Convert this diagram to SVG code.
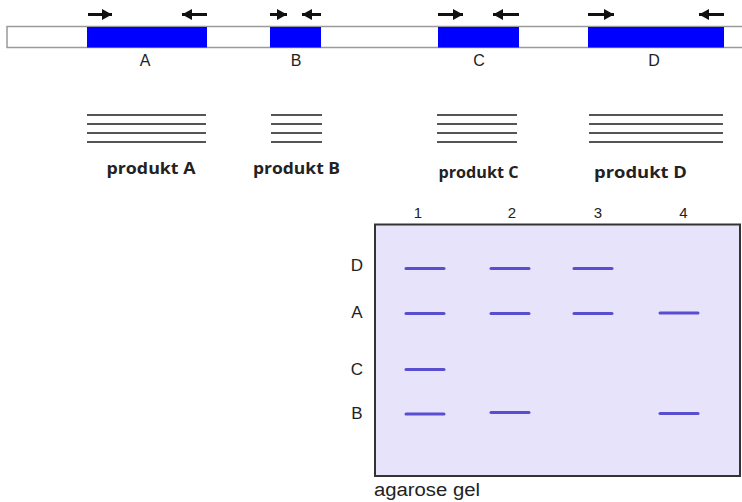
<svg xmlns="http://www.w3.org/2000/svg" width="742" height="502" viewBox="0 0 742 502">
  <style>
    .strand { fill: #ffffff; stroke: #9a9a9a; stroke-width: 1.5; }
    .gene { fill: #0000ff; }
    .primer { stroke: #111111; stroke-width: 3; marker-end: url(#head); }
    .lbl { font-family: "Liberation Sans", Arial, sans-serif; font-size: 16px; fill: #222222; text-anchor: middle; }
    .prod { stroke: #555555; stroke-width: 2; }
    .plbl { font-family: "Open Sans", "Liberation Sans", sans-serif; font-weight: bold; font-size: 16.5px; fill: #222222; text-anchor: middle; }
    .gel { fill: #e6e3fb; stroke: #333333; stroke-width: 2; }
    .band { stroke: #5a4ed0; stroke-width: 3; stroke-linecap: round; }
    .lane { font-family: "Liberation Sans", Arial, sans-serif; font-size: 15px; fill: #222222; text-anchor: middle; }
    .row { font-family: "Liberation Sans", Arial, sans-serif; font-size: 17px; fill: #222222; text-anchor: middle; }
  </style>
  <defs>
    <marker id="head" markerUnits="userSpaceOnUse" markerWidth="10" markerHeight="11" refX="10" refY="5.5" orient="auto">
      <path d="M0,0 L10,5.5 L0,11 Z" fill="#111111"/>
    </marker>
  </defs>

  <rect width="742" height="502" fill="#ffffff"/>

  <!-- DNA template with target regions -->
  <g id="template">
    <rect class="strand" x="7" y="26.5" width="745" height="21"/>
    <rect class="gene" x="87" y="27" width="120" height="20.5"/>
    <rect class="gene" x="270" y="27" width="51" height="20.5"/>
    <rect class="gene" x="438" y="27" width="81" height="20.5"/>
    <rect class="gene" x="588" y="27" width="136" height="20.5"/>
    <text class="lbl" x="145" y="65.5">A</text>
    <text class="lbl" x="296" y="65.5">B</text>
    <text class="lbl" x="479" y="65.5">C</text>
    <text class="lbl" x="654" y="65.5">D</text>
  </g>

  <!-- primer pairs -->
  <g id="primers">
    <line class="primer" x1="88" y1="14.5" x2="112" y2="14.5"/>
    <line class="primer" x1="207" y1="14.5" x2="182" y2="14.5"/>
    <line class="primer" x1="270" y1="14.5" x2="287" y2="14.5"/>
    <line class="primer" x1="321" y1="14.5" x2="302" y2="14.5"/>
    <line class="primer" x1="438" y1="14.5" x2="463" y2="14.5"/>
    <line class="primer" x1="519" y1="14.5" x2="493" y2="14.5"/>
    <line class="primer" x1="588" y1="14.5" x2="614" y2="14.5"/>
    <line class="primer" x1="724" y1="14.5" x2="699" y2="14.5"/>
  </g>

  <!-- amplified products -->
  <g id="produktA">
    <line class="prod" x1="87" y1="115" x2="206" y2="115"/>
    <line class="prod" x1="87" y1="124" x2="206" y2="124"/>
    <line class="prod" x1="87" y1="133" x2="206" y2="133"/>
    <line class="prod" x1="87" y1="142" x2="206" y2="142"/>
    <text class="plbl" x="151" y="173.5" textLength="89" lengthAdjust="spacingAndGlyphs">produkt A</text>
  </g>
  <g id="produktB">
    <line class="prod" x1="271" y1="115" x2="322" y2="115"/>
    <line class="prod" x1="271" y1="124" x2="322" y2="124"/>
    <line class="prod" x1="271" y1="133" x2="322" y2="133"/>
    <line class="prod" x1="271" y1="142" x2="322" y2="142"/>
    <text class="plbl" x="296.5" y="173.5" textLength="87" lengthAdjust="spacingAndGlyphs">produkt B</text>
  </g>
  <g id="produktC">
    <line class="prod" x1="437" y1="115" x2="517" y2="115"/>
    <line class="prod" x1="437" y1="124" x2="517" y2="124"/>
    <line class="prod" x1="437" y1="133" x2="517" y2="133"/>
    <line class="prod" x1="437" y1="142" x2="517" y2="142"/>
    <text class="plbl" x="478.5" y="178" textLength="80" lengthAdjust="spacingAndGlyphs">produkt C</text>
  </g>
  <g id="produktD">
    <line class="prod" x1="589" y1="115" x2="723" y2="115"/>
    <line class="prod" x1="589" y1="124" x2="723" y2="124"/>
    <line class="prod" x1="589" y1="133" x2="723" y2="133"/>
    <line class="prod" x1="589" y1="142" x2="723" y2="142"/>
    <text class="plbl" x="640.5" y="178" textLength="93" lengthAdjust="spacingAndGlyphs">produkt D</text>
  </g>

  <!-- agarose gel -->
  <g id="gel">
    <rect class="gel" x="375" y="224.5" width="365" height="251.5"/>
    <text class="lane" x="418" y="218">1</text>
    <text class="lane" x="512" y="218">2</text>
    <text class="lane" x="598" y="218">3</text>
    <text class="lane" x="683.5" y="218">4</text>
    <text class="row" x="357" y="271">D</text>
    <text class="row" x="357" y="318">A</text>
    <text class="row" x="357" y="375">C</text>
    <text class="row" x="357" y="419">B</text>
    <text x="374" y="496" font-family="Liberation Sans, Arial, sans-serif" font-size="18" fill="#222222" textLength="106" lengthAdjust="spacingAndGlyphs">agarose gel</text>
  </g>

  <g id="bands">
    <line class="band" x1="406" y1="268.5" x2="444" y2="268.5"/>
    <line class="band" x1="406" y1="313.5" x2="444" y2="313.5"/>
    <line class="band" x1="406" y1="369.5" x2="444" y2="369.5"/>
    <line class="band" x1="406" y1="414" x2="444" y2="414"/>
    <line class="band" x1="491" y1="268.5" x2="529" y2="268.5"/>
    <line class="band" x1="491" y1="313.5" x2="529" y2="313.5"/>
    <line class="band" x1="491" y1="412.5" x2="529" y2="412.5"/>
    <line class="band" x1="574" y1="268.5" x2="612" y2="268.5"/>
    <line class="band" x1="574" y1="313.5" x2="612" y2="313.5"/>
    <line class="band" x1="660" y1="313" x2="698" y2="313"/>
    <line class="band" x1="660" y1="413.5" x2="698" y2="413.5"/>
  </g>
</svg>
